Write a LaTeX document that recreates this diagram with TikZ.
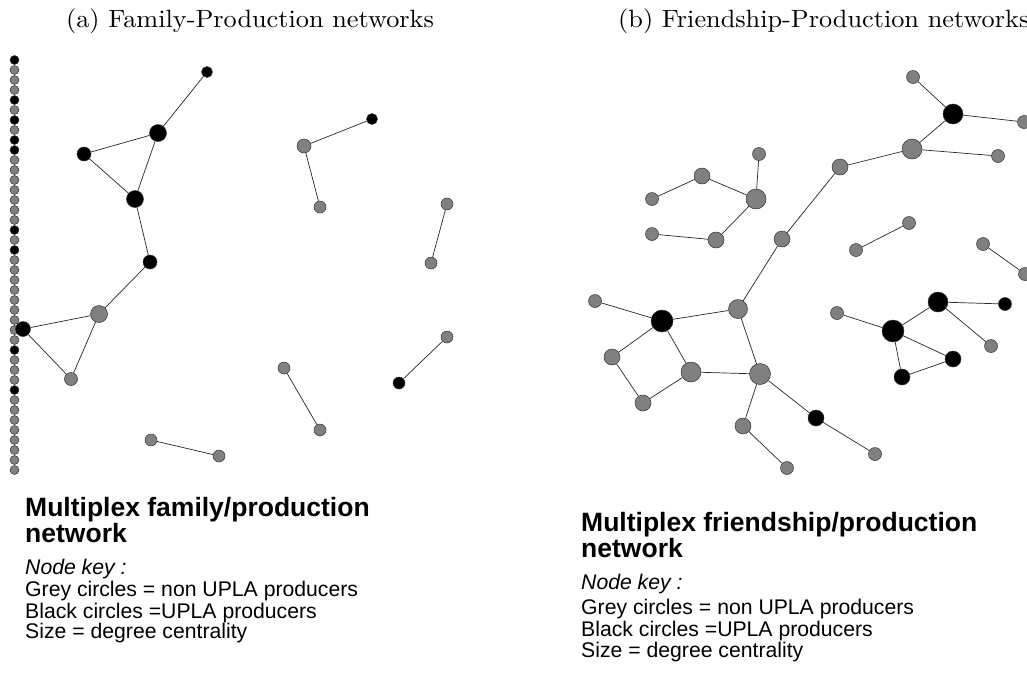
\documentclass[tikz,border=0pt]{standalone}
\usepackage{fontspec}
\usepackage{graphicx}
\setsansfont{Liberation Sans}
\newfontfamily\capfont{lmroman10-regular.otf}
\begin{document}
\begin{tikzpicture}[x=1pt,y=-1pt,
  nd/.style={circle,inner sep=0pt,draw=black!80,line width=0.5pt},
  gr/.style={nd,fill=black!50},
  bk/.style={nd,fill=black},
  dia/.style={minimum size=#1pt},
  lnk/.style={draw=black!85,line width=0.7pt},
  capt/.style={inner sep=0pt,font=\capfont\fontsize{25}{29}\selectfont},
  hd/.style={inner sep=0pt,anchor=base west,font=\sffamily\bfseries\fontsize{26.5}{30}\selectfont},
  kt/.style={inner sep=0pt,anchor=base west,font=\sffamily\fontsize{21.2}{24}\selectfont},
  kti/.style={kt,font=\sffamily\itshape\fontsize{21.2}{24}\selectfont}]
\useasboundingbox (0,0) rectangle (1027,675);

% ---------- captions ----------
\node[capt,anchor=base] (capa) at (250,27) {\scalebox{1.05}[1]{(a) Family-Production networks}};
\node[capt,anchor=base west] (capb) at (618,27) {\scalebox{1.05}[1]{(b) Friendship-Production networks}};

% ---------- (a) isolates column ----------
\foreach \k in {0,...,41}{
  \pgfmathtruncatemacro\yy{60+10*\k}
  \ifnum\yy=60 \def\cc{bk}\else
  \ifnum\yy=100 \def\cc{bk}\else
  \ifnum\yy=120 \def\cc{bk}\else
  \ifnum\yy=140 \def\cc{bk}\else
  \ifnum\yy=150 \def\cc{bk}\else
  \ifnum\yy=230 \def\cc{bk}\else
  \ifnum\yy=250 \def\cc{bk}\else
  \ifnum\yy=350 \def\cc{bk}\else
  \ifnum\yy=390 \def\cc{bk}\else \def\cc{gr}\fi\fi\fi\fi\fi\fi\fi\fi\fi
  \node[\cc,dia=9] (iso\k) at (14.5,\yy) {};
}

% ---------- (a) main component ----------
\node[bk,dia=11] (A) at (207,72) {};
\node[bk,dia=17] (B) at (158,133) {};
\node[bk,dia=14] (C) at (84,154) {};
\node[bk,dia=17] (D) at (135,199) {};
\node[bk,dia=14] (E) at (150,262) {};
\node[gr,dia=17] (F) at (99,314) {};
\node[bk,dia=15] (G) at (23,329) {};
\node[gr,dia=13] (H) at (71,379) {};
\draw[lnk] (A) -- (B);
\draw[lnk] (B) -- (C);
\draw[lnk] (B) -- (D);
\draw[lnk] (C) -- (D);
\draw[lnk] (D) -- (E);
\draw[lnk] (E) -- (F);
\draw[lnk] (F) -- (G);
\draw[lnk] (F) -- (H);
\draw[lnk] (G) -- (H);

% ---------- (a) small components ----------
\node[bk,dia=11] (I) at (372,119) {};
\node[gr,dia=14] (J) at (304,146) {};
\node[gr,dia=12] (K) at (320,207) {};
\node[gr,dia=12] (L) at (447,204) {};
\node[gr,dia=12] (M) at (431,263) {};
\node[gr,dia=12] (N) at (447,337) {};
\node[bk,dia=12] (O) at (399,383) {};
\node[gr,dia=12] (P) at (284,368) {};
\node[gr,dia=12] (Q) at (320,430) {};
\node[gr,dia=12] (R) at (151,440) {};
\node[gr,dia=12] (S) at (219,456) {};
\draw[lnk] (I) -- (J);
\draw[lnk] (J) -- (K);
\draw[lnk] (L) -- (M);
\draw[lnk] (N) -- (O);
\draw[lnk] (P) -- (Q);
\draw[lnk] (R) -- (S);

% ---------- (b) upper part ----------
\node[gr,dia=13] (a1) at (913,77) {};
\node[bk,dia=20] (a2) at (953,114) {};
\node[gr,dia=13] (a3) at (1024,122) {};
\node[gr,dia=20] (a4) at (912,149) {};
\node[gr,dia=13] (a5) at (998,156) {};
\node[gr,dia=16] (a6) at (840,167) {};
\node[gr,dia=13] (a7) at (759,154) {};
\node[gr,dia=16] (a8) at (702,176) {};
\node[gr,dia=20] (a9) at (756,199) {};
\node[gr,dia=13] (a10) at (652,199) {};
\node[gr,dia=13] (a11) at (652,234) {};
\node[gr,dia=16] (a12) at (716,240) {};
\node[gr,dia=16] (a13) at (782,239) {};
\node[gr,dia=13] (a14) at (909,223) {};
\node[gr,dia=13] (a15) at (856,250) {};
\node[gr,dia=13] (a16) at (983,244) {};
\node[gr,dia=13] (a17) at (1025,274) {};

% ---------- (b) lower part ----------
\node[gr,dia=13] (b1) at (595,301) {};
\node[bk,dia=22] (b2) at (662,321) {};
\node[gr,dia=19] (b3) at (738,309) {};
\node[gr,dia=16] (b4) at (612,357) {};
\node[gr,dia=20] (b5) at (691,372) {};
\node[gr,dia=21] (b6) at (760,374) {};
\node[gr,dia=16] (b7) at (643,403) {};
\node[gr,dia=16] (b8) at (743,426) {};
\node[bk,dia=16] (b9) at (816,418) {};
\node[gr,dia=13] (b10) at (787,468) {};
\node[gr,dia=13] (b11) at (875,454) {};
\node[gr,dia=13] (c1) at (837,313) {};
\node[bk,dia=22] (c2) at (893,331) {};
\node[bk,dia=20] (c3) at (938,302) {};
\node[bk,dia=13] (c4) at (1005,304) {};
\node[gr,dia=13] (c5) at (991,346) {};
\node[bk,dia=16] (c6) at (953,359) {};
\node[bk,dia=16] (c7) at (902,377) {};

\draw[lnk] (a1) -- (a2);
\draw[lnk] (a2) -- (a3);
\draw[lnk] (a2) -- (a4);
\draw[lnk] (a4) -- (a5);
\draw[lnk] (a4) -- (a6);
\draw[lnk] (a6) -- (a13);
\draw[lnk] (a7) -- (a9);
\draw[lnk] (a8) -- (a9);
\draw[lnk] (a8) -- (a10);
\draw[lnk] (a9) -- (a12);
\draw[lnk] (a11) -- (a12);
\draw[lnk] (a14) -- (a15);
\draw[lnk] (a16) -- (a17);
\draw[lnk] (a13) -- (b3);
\draw[lnk] (b1) -- (b2);
\draw[lnk] (b2) -- (b3);
\draw[lnk] (b2) -- (b4);
\draw[lnk] (b2) -- (b5);
\draw[lnk] (b3) -- (b6);
\draw[lnk] (b4) -- (b7);
\draw[lnk] (b5) -- (b7);
\draw[lnk] (b5) -- (b6);
\draw[lnk] (b6) -- (b8);
\draw[lnk] (b6) -- (b9);
\draw[lnk] (b8) -- (b10);
\draw[lnk] (b9) -- (b11);
\draw[lnk] (c1) -- (c2);
\draw[lnk] (c2) -- (c3);
\draw[lnk] (c3) -- (c4);
\draw[lnk] (c3) -- (c5);
\draw[lnk] (c2) -- (c6);
\draw[lnk] (c2) -- (c7);
\draw[lnk] (c6) -- (c7);

% ---------- legends ----------
\node[hd] (lh1) at (25,516) {Multiplex family/production};
\node[hd] (lh2) at (25,542) {network};
\node[kti] (lk0) at (25,574) {Node key :};
\node[kt] (lk1) at (25,596) {Grey circles = non UPLA producers};
\node[kt] (lk2) at (25,618) {Black circles =UPLA producers};
\node[kt] (lk3) at (25,638) {Size = degree centrality};

\node[hd] (rh1) at (581,531) {Multiplex friendship/production};
\node[hd] (rh2) at (581,557) {network};
\node[kti] (rk0) at (581,589) {Node key :};
\node[kt] (rk1) at (581,614) {Grey circles = non UPLA producers};
\node[kt] (rk2) at (581,636) {Black circles =UPLA producers};
\node[kt] (rk3) at (581,657) {Size = degree centrality};
\end{tikzpicture}
\end{document}
